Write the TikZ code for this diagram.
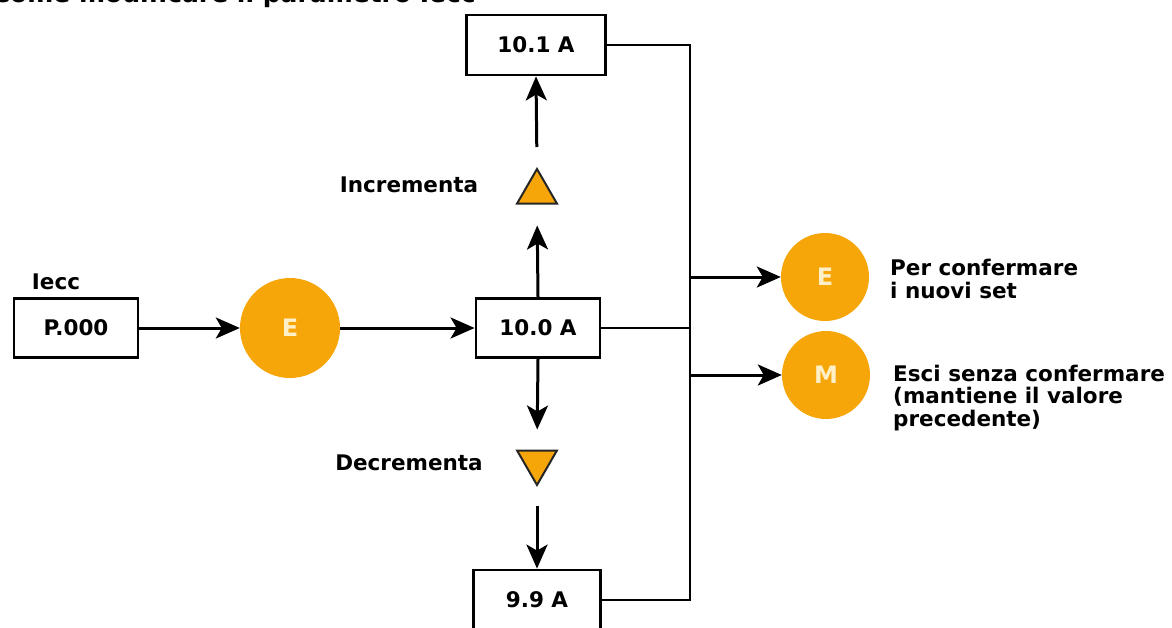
\documentclass[tikz,border=0pt]{standalone}
\usepackage{fontspec}
\setmainfont{DejaVu Sans}
\usetikzlibrary{arrows.meta,shapes.geometric}
\definecolor{org}{RGB}{247,166,10}
\definecolor{lbl}{RGB}{255,240,200}
\begin{document}
\begin{tikzpicture}[x=1pt,y=-1pt,
  every node/.style={font=\bfseries\fontsize{21.5}{22.5}\selectfont},
  box/.style={draw,line width=2.8pt,minimum height=59pt,inner sep=0pt},
  btn/.style={circle,fill=org,text=lbl,inner sep=0pt},
  tri/.style={regular polygon,regular polygon sides=3,fill=org,draw=black!85,line width=2pt,minimum size=46pt,inner sep=0pt},
  arr/.style={-{Stealth[length=24pt,width=21pt,inset=6pt]},line width=3pt},
  ln/.style={line width=2.6pt},
  txt/.style={anchor=west,align=left,inner sep=0pt}]
\useasboundingbox (0,0) rectangle (1172,627);
\node[anchor=base east,inner sep=0pt,font=\bfseries\fontsize{25}{28}\selectfont] (title) at (476,2) {Come modificare il parametro Iecc};
\node[box,minimum width=124pt] (p) at (76,328) {P.000};
\node[inner sep=0pt] (iecc) at (56,282) {Iecc};
\node[btn,minimum size=100pt,font=\bfseries\fontsize{24}{26}\selectfont] (e1) at (290,328) {E};
\node[box,minimum width=124pt] (t100) at (538,328) {10.0 A};
\node[box,minimum width=139pt,minimum height=60pt] (t101) at (536,45) {10.1 A};
\node[box,minimum width=127pt,minimum height=60pt] (t99) at (537,600) {9.9 A};
\node[tri] (up) at (537,192) {};
\node[tri,shape border rotate=180] (dn) at (537,462) {};
\node[inner sep=0pt] (inc) at (409,185) {Incrementa};
\node[inner sep=0pt] (dec) at (409,463) {Decrementa};
\node[btn,minimum size=88pt,font=\bfseries\fontsize{24}{26}\selectfont] (e2) at (825,277) {E};
\node[btn,minimum size=88pt,font=\bfseries\fontsize{24}{26}\selectfont] (m) at (826,375) {M};
\node[txt] (t1) at (890,279) {Per confermare\\i nuovi set};
\node[txt] (t2) at (893,398) {Esci senza confermare\\(mantiene il valore\\precedente)};
\coordinate (b1) at (690,45);
\coordinate (b2) at (690,600);
\coordinate (bm) at (690,328);
\coordinate (be) at (690,277);
\coordinate (bmm) at (690,375);
\draw[arr] (p.east) -- (e1.west);
\draw[arr] (e1.east) -- (t100.west);
\draw[arr,shorten >=21pt] (t100.north) -- (up.south);
\draw[arr,shorten <=20pt] (up.north) -- (t101.south);
\draw[arr,shorten >=20pt] (t100.south) -- (dn.north);
\draw[arr,shorten <=19pt] (dn.south) -- (t99.north);
\draw[ln] (t101.east) -- (b1) -- (b2) -- (t99.east);
\draw[ln] (t100.east) -- (bm);
\draw[arr] (be) -- (e2.west);
\draw[arr] (bmm) -- (m.west);
\end{tikzpicture}
\end{document}
